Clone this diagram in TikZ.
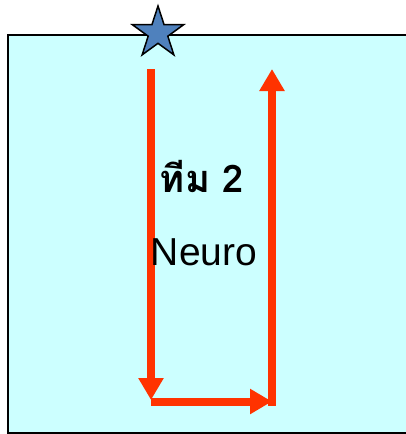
\documentclass[tikz,border=0pt]{standalone}
\usepackage{fontspec}
\setmainfont{Liberation Sans}
\newfontfamily\thaifont[Script=Thai]{Loma}
\usetikzlibrary{arrows.meta,shapes.geometric}

\definecolor{boxfill}{RGB}{204,255,255}
\definecolor{flowred}{RGB}{255,51,0}
\definecolor{starblue}{RGB}{79,129,189}

\begin{document}
\begin{tikzpicture}[x=1pt,y=-1pt,
        flow arrow/.style={draw=flowred,line width=8pt,-{Triangle[width=24pt,length=22pt]}},
        star node/.style={star,star points=5,star point ratio=2.618,minimum size=54pt,
          inner sep=0pt,draw=black,line width=1.5pt,fill=starblue},
        team label/.style={font=\thaifont\fontsize{38}{40}\selectfont\bfseries},
        unit label/.style={font=\fontsize{39}{41}\selectfont}]

      \useasboundingbox (0,0) rectangle (406,434);
      \clip (0,0) rectangle (406,434);

      \draw[fill=boxfill,line width=1.5pt] (8,35) rectangle (420,433);

      % flow path
      \coordinate (a) at (151,69);
      \coordinate (b) at (151,400);
      \coordinate (c) at (151,401.5);
      \coordinate (d) at (272,401.5);
      \coordinate (e) at (272,405.5);
      \coordinate (f) at (272,69);

      \draw[flow arrow] (a) -- (b);
      \draw[flow arrow] (c) -- (d);
      \draw[flow arrow] (e) -- (f);

      \node[star node] (s) at (158,33) {};

      \node[team label] (t1) at (202,176) {ทีม 2};
      \node[unit label] (t2) at (204,252) {Neuro};
      \end{tikzpicture}
\end{document}
